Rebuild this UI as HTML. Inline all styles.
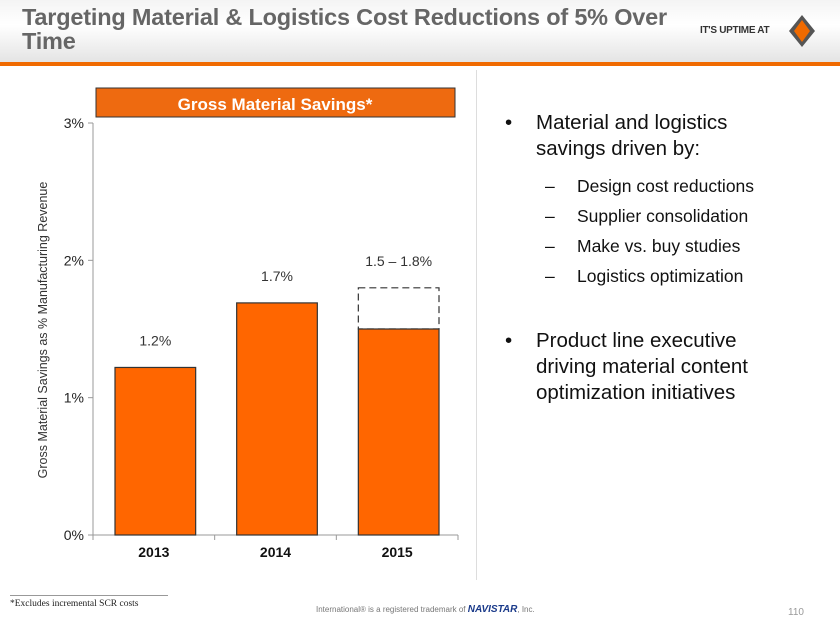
<!DOCTYPE html>
<html><head><meta charset="utf-8"><style>
body{margin:0;width:840px;height:630px;overflow:hidden;background:#fff;font-family:"Liberation Sans",sans-serif;position:relative}
.a{position:absolute}
</style></head><body>
<div class="a" style="left:0;top:0;width:840px;height:62px;background:linear-gradient(#f4f4f4,#fff 40%,#e4e4e4)"></div>
<div class="a" style="left:0;top:62px;width:840px;height:4px;background:#f06a00"></div>
<div class="a" style="left:22px;top:5px;font-size:23.5px;font-weight:bold;color:#666;line-height:24px;width:660px;letter-spacing:-0.2px">Targeting Material &amp; Logistics Cost Reductions of 5% Over Time</div>
<div class="a" style="left:700px;top:25px;font-size:10px;font-weight:bold;color:#333;letter-spacing:-0.3px">IT'S UPTIME AT</div>
<svg class="a" style="left:788px;top:14px" width="28" height="34"><polygon points="14,1 27,17 14,33 1,17" fill="#555"/><polygon points="14,6 22,17 14,28 6,17" fill="#f06a00"/></svg>
<div class="a" style="left:476px;top:70px;width:1px;height:510px;background:#ddd"></div>
<svg class="a" id="chart" style="left:0;top:0" width="476" height="580"></svg>
<div class="a" style="left:505px;top:110px;font-size:20.5px;color:#111;line-height:26px">
<div style="position:relative;padding-left:31px"><span style="position:absolute;left:0">•</span>Material and logistics<br>savings driven by:</div>
<div style="font-size:17.5px;line-height:30px;margin-top:9px;padding-left:40px">
<div style="position:relative;padding-left:32px"><span style="position:absolute;left:0">–</span>Design cost reductions</div>
<div style="position:relative;padding-left:32px"><span style="position:absolute;left:0">–</span>Supplier consolidation</div>
<div style="position:relative;padding-left:32px"><span style="position:absolute;left:0">–</span>Make vs. buy studies</div>
<div style="position:relative;padding-left:32px"><span style="position:absolute;left:0">–</span>Logistics optimization</div></div>
<div style="position:relative;padding-left:31px;margin-top:37px"><span style="position:absolute;left:0">•</span>Product line executive<br>driving material content<br>optimization initiatives</div>
</div>
<div class="a" style="left:10px;top:595px;width:158px;height:1px;background:#999"></div>
<div class="a" style="left:10px;top:599px;font-family:'Liberation Serif',serif;font-size:9.5px;color:#222">*Excludes incremental SCR costs</div>
<div class="a" style="left:316px;top:604px;font-size:8px;color:#777">International® is a registered trademark of <b style="color:#1a3a8a;font-style:italic;font-size:10px">NAVISTAR</b>, Inc.</div>
<div class="a" style="left:788px;top:607px;font-size:10px;color:#999">110</div>
<script>
const categories=["2013","2014","2015"];
const values=[1.22,1.69,1.5];
const rangeTop=[null,null,1.8];
const valueLabels=["1.2%","1.7%","1.5 – 1.8%"];
const ticks=[0,1,2,3];
const tickLabels=["0%","1%","2%","3%"];
const NS="http://www.w3.org/2000/svg";
const svg=document.getElementById('chart');
const x0=93,x1=458,yBase=535,yTop=123,maxV=3;
const y=v=>yBase-(v/maxV)*(yBase-yTop);
const bw=(x1-x0)/categories.length;
function mk(t,a,txt){const e=document.createElementNS(NS,t);for(const k in a)e.setAttribute(k,a[k]);if(txt!=null)e.textContent=txt;svg.appendChild(e);return e;}
let e=mk('line',{x1:x0,y1:yTop,x2:x0,y2:yBase,stroke:'#999'});

e=mk('line',{x1:x0,y1:yBase,x2:x1,y2:yBase,stroke:'#999'});

ticks.forEach((t,i)=>{
 let l=mk('line',{x1:x0-5,y1:y(t),x2:x0,y2:y(t),stroke:'#999'});
 
 let tx=mk('text',{x:x0-9,y:y(t)+5,'text-anchor':'end','font-size':14,fill:'#222'},tickLabels[i]);
 
});
for(let i=0;i<=categories.length;i++){
 let l=mk('line',{x1:x0+i*bw,y1:yBase,x2:x0+i*bw,y2:yBase+5,stroke:'#999'});
 
}
categories.forEach((c,i)=>{
 const bx=x0+i*bw+22,w=bw-41;
 if(rangeTop[i]!=null){
  let d=mk('rect',{x:bx,y:y(rangeTop[i]),width:w,height:y(values[i])-y(rangeTop[i]),fill:'none',stroke:'#333','stroke-dasharray':'7,4','stroke-width':1.2});
  
 }
 let r=mk('rect',{x:bx,y:y(values[i]),width:w,height:yBase-y(values[i]),fill:'#ff6600',stroke:'#333','stroke-width':1.2});
 
 const top=rangeTop[i]!=null?rangeTop[i]:values[i];
 let vl=mk('text',{x:bx+w/2,y:y(top)-22,'text-anchor':'middle','font-size':14,fill:'#333'},valueLabels[i]);
 
 let cl=mk('text',{x:x0+i*bw+bw/2,y:yBase+22,'text-anchor':'middle','font-size':14,'font-weight':'bold',fill:'#111'},c);
 
});
let yt=mk('text',{transform:'translate(47,330) rotate(-90)','text-anchor':'middle','font-size':12.5,fill:'#333'},'Gross Material Savings as % Manufacturing Revenue');

let tb=mk('rect',{x:96,y:88,width:359,height:29,fill:'#ee6a10',stroke:'#333','stroke-width':1});

let tt=mk('text',{x:275,y:110,'text-anchor':'middle','font-size':17,'font-weight':'bold',fill:'#fff'},'Gross Material Savings*');

</script>
</body></html>
